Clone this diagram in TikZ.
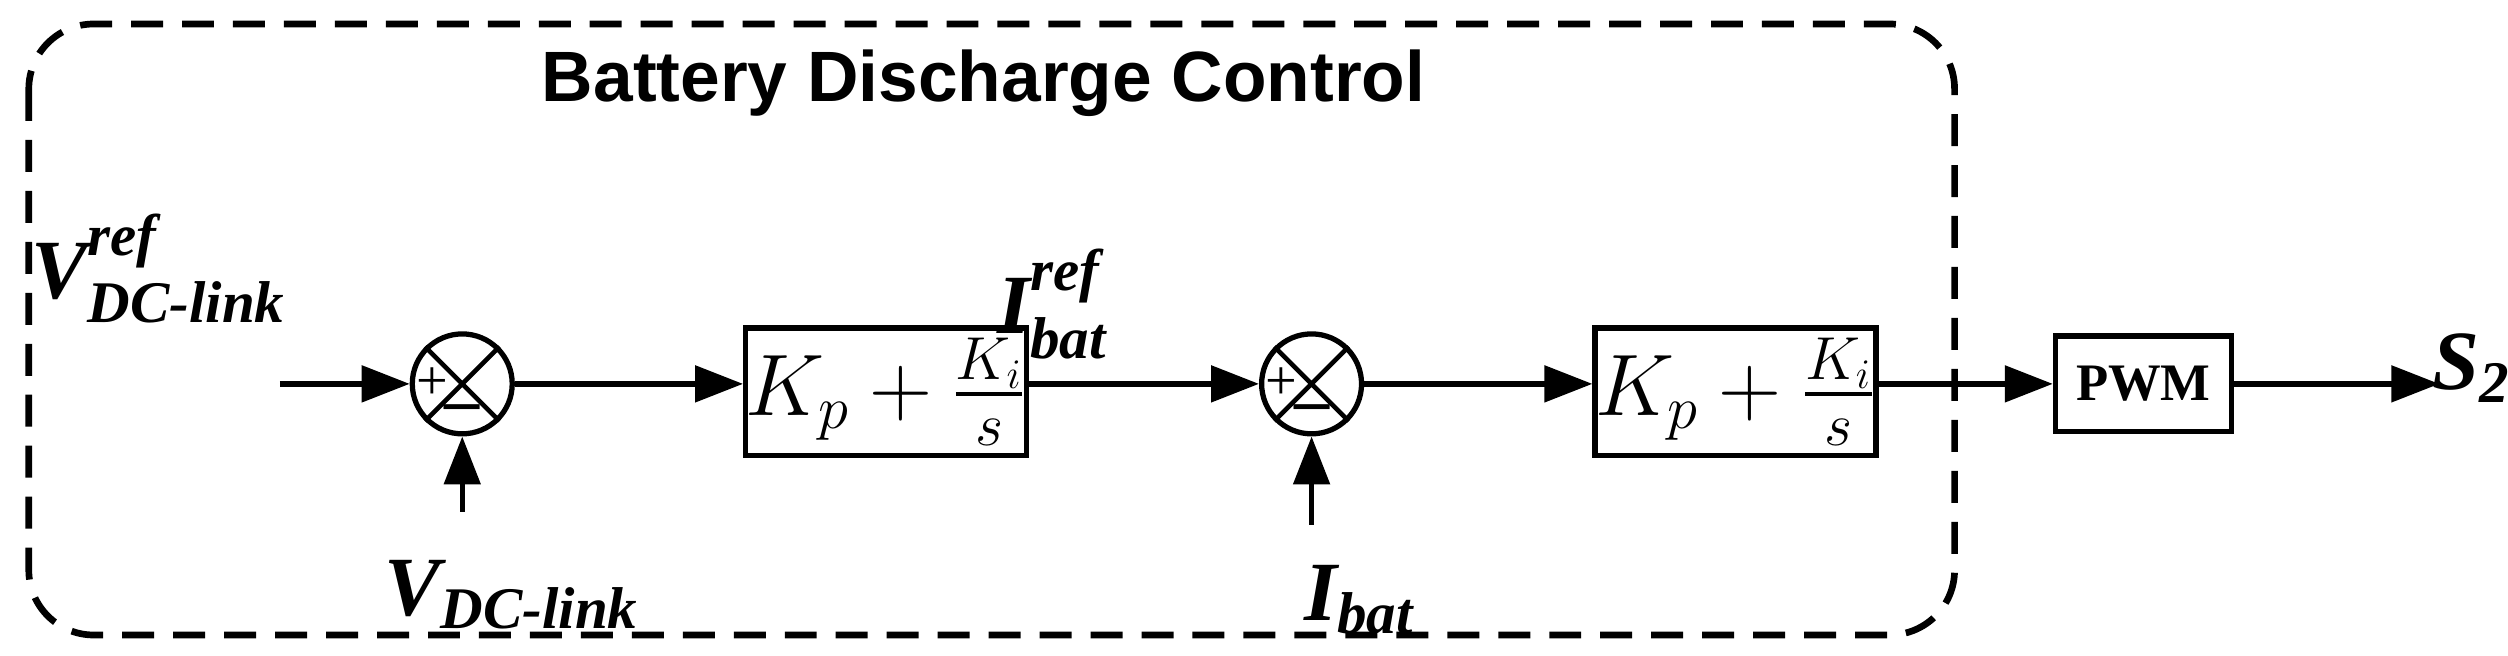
\documentclass[tikz,border=0pt]{standalone}
\usepackage{amsmath}
\usepackage{fontspec}
\setmainfont{Liberation Serif}
\newfontfamily\sansb{Liberation Sans}
\usetikzlibrary{arrows.meta,shapes.geometric}
\begin{document}
\begin{tikzpicture}[x=0.016cm,y=-0.016cm,line width=1.5pt,
 arr/.style={-{Triangle[length=0.48cm,width=0.36cm]}},
 blk/.style={draw,rectangle,line width=1.5pt,inner sep=0},
 sum/.style={draw,circle,minimum size=1.0cm,inner sep=0,line width=1.5pt},
 lab/.style={font=\fontsize{24}{26}\selectfont\bfseries\itshape,inner sep=0}]
\useasboundingbox (0,0) rectangle (1568,410);
\draw[dash pattern=on 0.32cm off 0.19cm,line width=1.9pt,rounded corners=0.65cm] (18,15) rectangle (1222,397);
\node[font=\sansb\fontsize{20.3}{22}\selectfont\bfseries] (t) at (615,52) {Battery Discharge Control};
\node[sum] (s1) at (289,240) {};
\node[sum] (s2) at (820,240) {};
\foreach \s in {s1,s2}{
 \draw[line width=1.3pt] (\s.north west)--(\s.south east) (\s.north east)--(\s.south west);
 \node[font=\fontsize{16}{16}\selectfont] at ([xshift=-0.3cm]\s.center) {+};
 \node[font=\fontsize{20}{20}\selectfont\bfseries] at ([yshift=-0.3cm]\s.center) {--};
}
\node[blk,minimum width=2.75cm,minimum height=1.28cm] (b1) at (554,245) {\fontsize{24}{26}\selectfont$K_p+\frac{K_i}{s}$};
\node[blk,minimum width=2.72cm,minimum height=1.28cm] (b2) at (1085,245) {\fontsize{24}{26}\selectfont$K_p+\frac{K_i}{s}$};
\node[blk,minimum width=1.76cm,minimum height=0.96cm,font=\fontsize{15}{17}\selectfont\bfseries] (p) at (1340,240) {PWM};
\coordinate (in) at (175,240);
\coordinate (v1) at (289,320);
\coordinate (v2) at (820,328);
\coordinate (out) at (1525,240);
\draw[arr] (in)--(s1);
\draw[arr] (v1)--(s1);
\draw[arr] (v2)--(s2);
\draw[arr] (s1)--(b1.west|-s1);
\draw[arr] (b1.east|-s2)--(s2);
\draw[arr] (s2)--(b2.west|-s2);
\draw[arr] (b2.east|-p)--(p);
\draw[arr] (p)--(out);
\node[lab,anchor=west] (l1) at (18,168) {V$^{\text{ref}}_{\text{DC-link}}$};
\node[lab] (l2) at (320,372) {V$_{\text{DC-link}}$};
\node[lab] (l3) at (658,190) {I$^{\text{ref}}_{\text{bat}}$};
\node[lab] (l4) at (850,375) {I$_{\text{bat}}$};
\node[lab] (l5) at (1545,230) {S$_{\text{2}}$};
\end{tikzpicture}
\end{document}
